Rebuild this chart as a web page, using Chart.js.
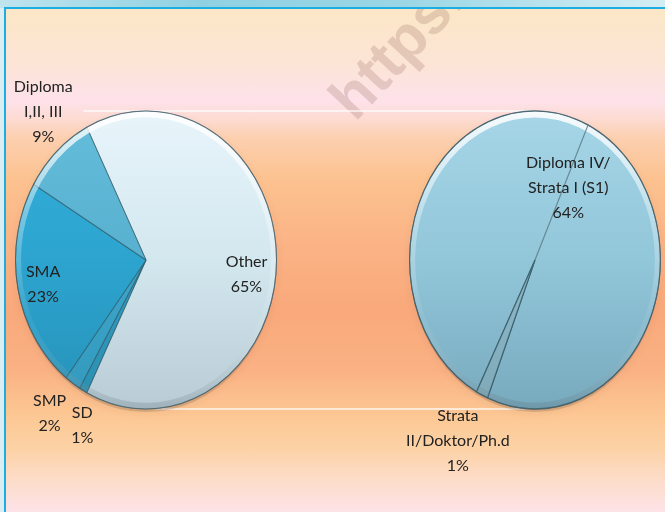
<!DOCTYPE html>
<html><head><meta charset="utf-8">
<script src="https://cdn.jsdelivr.net/npm/chart.js@4.4.1/dist/chart.umd.min.js"></script>
<style>
html,body{margin:0;padding:0;width:665px;height:512px;overflow:hidden;background:#d9edf3;font-family:Lato,"Open Sans",sans-serif;}
#topband{position:absolute;left:0;top:0;width:665px;height:8px;background:linear-gradient(90deg,#bfe4ee 0%,#8fd1e2 30%,#9ad6e5 60%,#d4edf4 100%);}
#frame{position:absolute;left:4px;top:7px;width:661px;height:505px;box-sizing:border-box;border-left:2px solid #1eade3;border-top:2px solid #1eade3;
background:linear-gradient(180deg,#fbe7c6 0px,#fce4d6 55px,#fde2ea 92px,#fddbd2 110px,#fccfae 130px,#fcc290 170px,#fbb486 230px,#f9a97b 300px,#fab183 360px,#fcc995 410px,#fcd2a6 440px,#fddcc8 470px,#fde3ea 505px);}
#wmclip{position:absolute;left:6px;top:9px;width:659px;height:503px;overflow:hidden;}
#wm{position:absolute;left:309px;top:76px;font:bold 60px "Liberation Sans",Arial,sans-serif;color:rgba(155,110,100,0.25);transform:rotate(-47deg);transform-origin:0 0;white-space:nowrap;}
canvas{position:absolute;left:0;top:0;pointer-events:none;}
</style></head>
<body>
<div id="topband"></div>
<div id="frame"></div>
<div id="wmclip"><div id="wm">https://</div></div>
<canvas id="c1" width="665" height="512"></canvas>
<canvas id="c2" width="665" height="512"></canvas>
<script>
// ---- data (percent of all respondents) ----
const mainLabels = ['Other', 'SD', 'SMP', 'SMA', 'Diploma I,II, III'];
const mainValues = [65, 1, 2, 23, 9];
const mainLabelText = [['Other','65%'], ['SD','1%'], ['SMP','2%'], ['SMA','23%'], ['Diploma','I,II, III','9%']];
const subLabels = ['Diploma IV/ Strata I (S1)', 'Strata II/Doktor/Ph.d'];
const subValues = [64, 1];
const subLabelText = [['Diploma IV/','Strata I (S1)','64%'], ['Strata','II/Doktor/Ph.d','1%']];

// ---- label placement: [radial factor, x nudge, y nudge] ----
const mainLabelPlace = [[0.77, 0, 14], [1.268, 16, 0], [1.246, -5, 0], [0.803, 0, 2], [1.363, 19, 0]];
const subLabelPlace = [[0.533, 5, 0], [1.341, -6, 0]];

function vGrad(ctx, chart, stops) {
  const a = chart.chartArea; if (!a) return stops[0][1];
  const g = ctx.createLinearGradient(0, a.top, 0, a.bottom);
  stops.forEach(s => g.addColorStop(s[0], s[1]));
  return g;
}
const mainColors = [
  [[0,'#e8f5fb'],[0.5,'#d3e7ef'],[1,'#b9ccd5']],
  [[0,'#3aa9cf'],[1,'#2a8fb2']],
  [[0,'#45b2d8'],[1,'#3399bd']],
  [[0,'#33b0dc'],[0.5,'#2ca4cf'],[1,'#2792b8']],
  [[0,'#64bddb'],[1,'#4aa3c2']]
];
const subColors = [
  [[0,'#a6d6e8'],[0.5,'#92c6d9'],[1,'#78aabe']],
  [[0,'#9ac8d8'],[1,'#7fa9b8']]
];

const ellipsePlugin = {
  id: 'ellipse',
  beforeDatasetsDraw(chart, args, opts) {
    const arc = chart.getDatasetMeta(0).data[0];
    const ctx = chart.ctx;
    const sy = opts.ry / arc.outerRadius;
    if (opts.connectors) {
      const other = opts.connectors();
      if (other) {
        ctx.save();
        ctx.strokeStyle = 'rgba(255,255,255,0.85)';
        ctx.lineWidth = 1.5;
        ctx.beginPath();
        ctx.moveTo(arc.x - arc.outerRadius * 0.48, arc.y - opts.ry);
        ctx.lineTo(other.x, other.y - other.ry);
        ctx.moveTo(arc.x + 10, arc.y + opts.ry);
        ctx.lineTo(other.x - 10, other.y + other.ry);
        ctx.stroke();
        ctx.restore();
      }
    }
    ctx.save();
    ctx.save();
    ctx.translate(arc.x, arc.y + 3); ctx.scale(1, sy);
    ctx.beginPath(); ctx.arc(0, 0, arc.outerRadius, 0, Math.PI * 2);
    ctx.shadowColor = 'rgba(90,60,40,0.35)'; ctx.shadowBlur = 8;
    ctx.fillStyle = 'rgba(120,90,70,0.25)'; ctx.fill();
    ctx.restore();
    ctx.translate(arc.x, arc.y); ctx.scale(1, sy); ctx.translate(-arc.x, -arc.y);
  },
  afterDatasetsDraw(chart, args, opts) {
    const meta = chart.getDatasetMeta(0);
    const arc = meta.data[0];
    const ctx = chart.ctx;
    const g = ctx.createLinearGradient(0, arc.y - arc.outerRadius, 0, arc.y + arc.outerRadius);
    g.addColorStop(0, 'rgba(255,255,255,0.9)');
    g.addColorStop(0.35, 'rgba(255,255,255,0.35)');
    g.addColorStop(0.7, 'rgba(255,255,255,0.05)');
    g.addColorStop(1, 'rgba(80,100,110,0.25)');
    ctx.strokeStyle = g; ctx.lineWidth = 5;
    ctx.beginPath(); ctx.arc(arc.x, arc.y, arc.outerRadius - 3, 0, Math.PI * 2); ctx.stroke();
    ctx.strokeStyle = 'rgba(70,95,105,0.7)'; ctx.lineWidth = 1;
    ctx.beginPath(); ctx.arc(arc.x, arc.y, arc.outerRadius, 0, Math.PI * 2); ctx.stroke();
    if (opts.seam) {
      const mid = (arc.startAngle + arc.endAngle) / 2;
      ctx.strokeStyle = 'rgba(90,120,130,0.8)'; ctx.lineWidth = 1.2;
      ctx.beginPath(); ctx.moveTo(arc.x, arc.y);
      ctx.lineTo(arc.x + Math.cos(mid) * arc.outerRadius, arc.y + Math.sin(mid) * arc.outerRadius);
      ctx.stroke();
    }
    ctx.restore();
  },
  afterDraw(chart, args, opts) {
    const meta = chart.getDatasetMeta(0);
    const ctx = chart.ctx;
    ctx.save();
    ctx.font = '16px Lato, "Open Sans", sans-serif';
    ctx.fillStyle = '#222222';
    ctx.textAlign = 'center'; ctx.textBaseline = 'middle';
    meta.data.forEach((arc, i) => {
      const lines = opts.text[i]; const p = opts.place[i];
      if (!lines) return;
      const sy = opts.ry / arc.outerRadius;
      const mid = (arc.startAngle + arc.endAngle) / 2;
      const x = arc.x + Math.cos(mid) * arc.outerRadius * p[0] + p[1];
      const y = arc.y + Math.sin(mid) * arc.outerRadius * sy * p[0] + p[2];
      const lh = 25;
      lines.forEach((t, k) => ctx.fillText(t, x, y + (k - (lines.length - 1) / 2) * lh));
    });
    ctx.restore();
  }
};

let subChart = null;
const baseOpts = { responsive: false, animation: false, events: [] };

const mainChart = new Chart(document.getElementById('c1'), {
  type: 'pie',
  data: { labels: mainLabels, datasets: [{ data: mainValues,
    backgroundColor: c => vGrad(c.chart.ctx, c.chart, mainColors[c.dataIndex]),
    borderColor: 'rgba(40,80,95,0.55)', borderWidth: 1 }] },
  options: Object.assign({}, baseOpts, {
    rotation: -27,
    layout: { padding: { left: 15, top: 129, right: 388, bottom: 121 } },
    plugins: { legend: { display: false }, tooltip: { enabled: false },
      ellipse: { ry: 149, text: mainLabelText, place: mainLabelPlace,
        connectors: () => { if (!subChart) return null; const a = subChart.getDatasetMeta(0).data[0]; return { x: a.x, y: a.y, ry: 149 }; } } }
  }),
  plugins: [ellipsePlugin]
});

subChart = new Chart(document.getElementById('c2'), {
  type: 'pie',
  data: { labels: subLabels, datasets: [{ data: subValues,
    backgroundColor: c => vGrad(c.chart.ctx, c.chart, subColors[c.dataIndex]),
    borderColor: 'rgba(50,85,100,0.75)', borderWidth: 1.2 }] },
  options: Object.assign({}, baseOpts, {
    rotation: 207.8,
    layout: { padding: { left: 409, top: 134, right: 4, bottom: 126 } },
    plugins: { legend: { display: false }, tooltip: { enabled: false },
      ellipse: { ry: 149, text: subLabelText, place: subLabelPlace, seam: true } }
  }),
  plugins: [ellipsePlugin]
});
mainChart.update();
</script>
</body></html>
